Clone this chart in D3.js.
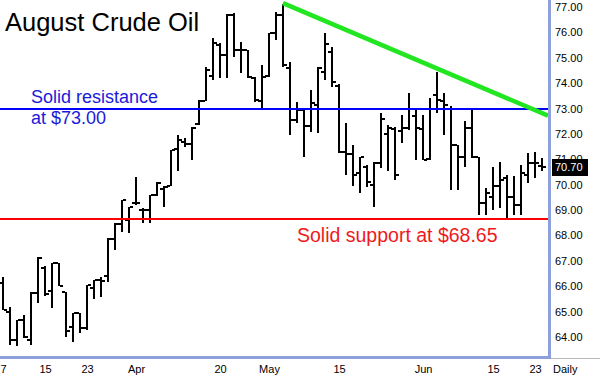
<!DOCTYPE html>
<html>
<head>
<meta charset="utf-8">
<script src="https://cdn.jsdelivr.net/npm/d3@7"></script>
<style>
  body { margin: 0; background: #fff; }
  svg { display: block; font-family: "Liberation Sans", Arial, sans-serif; }
</style>
</head>
<body>
<div id="chart"></div>
<script>
// trading days, Mar 7 - Jun 26
const dates = [
  "03-07","03-08","03-09","03-10","03-13","03-14","03-15","03-16","03-17","03-20",
  "03-21","03-22","03-23","03-24","03-27","03-28","03-29","03-30","03-31",
  "04-03","04-04","04-05","04-06","04-07","04-10","04-11","04-12","04-13","04-17",
  "04-18","04-19","04-20","04-21","04-24","04-25","04-26","04-27","04-28",
  "05-01","05-02","05-03","05-04","05-05","05-08","05-09","05-10","05-11","05-12",
  "05-15","05-16","05-17","05-18","05-19","05-22","05-23","05-24","05-25","05-26",
  "05-30","05-31",
  "06-01","06-02","06-05","06-06","06-07","06-08","06-09","06-12","06-13","06-14",
  "06-15","06-16","06-19","06-20","06-21","06-22","06-23","06-26"
];
const opens = [
  66.12,65.00,63.89,64.68,63.89,65.73,66.70,65.80,66.90,65.79,
  64.41,64.94,64.35,65.93,66.25,66.40,67.85,68.45,68.60,
  69.27,69.00,69.00,69.60,69.85,69.95,71.40,71.70,71.60,72.40,
  73.30,74.30,75.50,75.10,76.70,75.30,75.30,74.20,73.30,
  74.30,75.96,76.70,74.60,72.55,72.95,72.30,73.14,74.45,75.24,
  73.90,71.30,71.20,70.45,70.70,70.00,70.85,72.00,72.20,72.10,
  72.22,72.70,
  72.20,71.00,73.54,73.30,73.00,71.55,71.10,72.25,71.11,69.26,
  69.53,69.95,70.26,69.50,69.20,70.40,70.85,70.75
];
const highs = [
  66.38,65.20,64.68,64.87,65.79,67.17,66.80,66.91,66.91,65.79,
  64.94,64.94,66.06,66.25,66.38,67.89,68.48,69.40,69.14,
  70.32,69.07,69.60,70.10,69.93,71.37,71.96,71.85,72.29,73.34,
  74.65,75.77,75.60,76.72,76.75,75.64,75.31,74.26,74.72,
  75.96,76.81,77.10,74.85,73.27,73.01,73.73,74.65,75.96,75.44,
  73.95,72.42,71.57,71.11,70.78,70.90,72.81,72.35,72.29,72.75,
  73.60,72.94,
  72.75,73.40,74.45,73.60,73.10,71.57,72.49,73.01,71.11,69.86,
  70.71,70.90,70.39,70.33,70.78,71.24,71.30,71.04
];
const lows = [
  65.07,63.69,63.63,63.95,63.69,65.33,65.60,65.14,66.00,64.00,
  63.82,64.15,64.28,65.49,65.59,66.15,67.43,68.15,68.09,
  69.20,68.48,68.48,69.55,69.14,69.93,70.52,71.50,70.98,72.35,
  73.30,74.13,74.19,74.19,75.04,74.39,74.20,73.27,72.94,
  74.26,75.70,74.65,71.96,72.42,71.11,72.09,72.03,74.13,73.86,
  71.24,70.39,69.93,69.67,69.90,69.14,70.65,70.52,70.19,71.63,
  72.16,70.98,
  70.98,70.98,72.82,71.96,69.80,69.80,70.71,71.04,68.81,68.81,
  69.01,69.10,68.62,68.81,68.81,70.06,70.26,70.52
];
const closes = [
  65.07,63.89,64.68,64.00,65.73,67.10,65.70,66.90,66.02,64.22,
  64.94,64.35,66.06,66.25,66.19,67.85,68.45,69.38,69.11,
  69.27,69.01,69.60,70.05,69.90,71.37,71.76,71.60,72.25,73.30,
  74.50,75.57,75.10,76.70,75.30,75.30,74.26,73.34,74.26,
  75.96,76.70,74.72,72.55,72.95,72.30,73.20,74.60,75.55,74.06,
  71.30,71.20,70.40,71.10,70.12,70.85,72.60,72.25,70.40,72.22,
  73.00,72.22,
  70.98,73.00,73.34,73.14,71.55,71.11,72.25,71.11,69.26,69.67,
  69.93,70.20,69.53,69.20,70.45,70.85,70.85,70.70
];

const priceTicks = [64,65,66,67,68,69,70,71,72,73,74,75,76,77];
const dateTicks = ["03-07","03-15","03-23","04-03","04-20","05-01","05-15","06-01","06-15","06-23"];
const dateTickLabels = ["7","15","23","Apr","20","May","15","Jun","15","23"];

const resistance = 73.00;
const support = 68.65;
const trendStart = ["05-03", 77.15];
const trendEnd = ["06-26", 72.82];
const lastPrice = 70.70;

const W = 600, H = 378;
const plotRight = 548, plotBottom = 356;
const axisColor = "#8ea0dc";

const svg = d3.select("#chart").append("svg")
  .attr("width", W)
  .attr("height", H);

svg.append("rect")
  .attr("width", W).attr("height", H)
  .attr("fill", "#ffffff");

const x = d3.scalePoint().domain(dates).range([3, 542]);
const y = d3.scaleLinear().domain([64, 77]).range([337, 7]);

const bars = dates.map((d, i) => ({
  date: d, o: opens[i], h: highs[i], l: lows[i], c: closes[i]
}));

// price bars
const barG = svg.append("g").attr("shape-rendering", "crispEdges").attr("fill", "#000");
const tickLen = 3;

barG.selectAll(".hl")
  .data(bars)
  .enter()
  .append("rect")
  .attr("x", d => Math.round(x(d.date)) - 1)
  .attr("y", d => Math.round(y(d.h)))
  .attr("width", 2)
  .attr("height", d => Math.max(2, Math.round(y(d.l)) - Math.round(y(d.h))));

barG.selectAll(".open")
  .data(bars)
  .enter()
  .append("rect")
  .attr("x", d => Math.round(x(d.date)) - 1 - tickLen)
  .attr("y", d => Math.round(y(d.o)) - 1)
  .attr("width", tickLen)
  .attr("height", 2);

barG.selectAll(".close")
  .data(bars)
  .enter()
  .append("rect")
  .attr("x", d => Math.round(x(d.date)) + 1)
  .attr("y", d => Math.round(y(d.c)) - 1)
  .attr("width", tickLen)
  .attr("height", 2);

// support / resistance
svg.append("line")
  .attr("x1", 0).attr("x2", plotRight)
  .attr("y1", y(resistance)).attr("y2", y(resistance))
  .attr("stroke", "#0000ff").attr("stroke-width", 2)
  .attr("shape-rendering", "crispEdges");

svg.append("line")
  .attr("x1", 0).attr("x2", plotRight)
  .attr("y1", y(support)).attr("y2", y(support))
  .attr("stroke", "#ff0000").attr("stroke-width", 2)
  .attr("shape-rendering", "crispEdges");

// downtrend line, extended to the right edge
const tx1 = x(trendStart[0]), ty1 = y(trendStart[1]);
const tx2 = x(trendEnd[0]), ty2 = y(trendEnd[1]);
const slope = (ty2 - ty1) / (tx2 - tx1);
svg.append("line")
  .attr("x1", tx1).attr("y1", ty1)
  .attr("x2", plotRight).attr("y2", ty1 + slope * (plotRight - tx1))
  .attr("stroke", "#22e622").attr("stroke-width", 4.5);

// axis frame
svg.append("rect")
  .attr("x", plotRight).attr("y", 0)
  .attr("width", 3).attr("height", plotBottom + 3)
  .attr("fill", axisColor);
svg.append("rect")
  .attr("x", 0).attr("y", plotBottom)
  .attr("width", plotRight + 3).attr("height", 3)
  .attr("fill", axisColor);
svg.append("line")
  .attr("x1", plotRight + 3).attr("x2", W)
  .attr("y1", plotBottom + 2.5).attr("y2", plotBottom + 2.5)
  .attr("stroke", "#b8b8b8").attr("stroke-width", 1);

// right price axis
const yAxis = d3.axisRight(y)
  .tickValues(priceTicks)
  .tickFormat(d3.format(".2f"))
  .tickSize(0)
  .tickPadding(4);

const yAxisG = svg.append("g")
  .attr("transform", `translate(${plotRight + 3},0)`)
  .call(yAxis);
yAxisG.select(".domain").remove();
yAxisG.selectAll("text")
  .attr("font-family", "Liberation Sans, Arial, sans-serif")
  .attr("font-size", 11)
  .attr("fill", "#000");

// date axis
const xAxis = d3.axisBottom(x)
  .tickValues(dateTicks)
  .tickFormat((d, i) => dateTickLabels[i])
  .tickSize(0)
  .tickPadding(6);

const xAxisG = svg.append("g")
  .attr("transform", `translate(0,${plotBottom + 3})`)
  .call(xAxis);
xAxisG.select(".domain").remove();
xAxisG.selectAll("text")
  .attr("font-family", "Liberation Sans, Arial, sans-serif")
  .attr("font-size", 11)
  .attr("fill", "#000");

svg.append("text")
  .attr("x", 553).attr("y", 373)
  .attr("font-size", 11)
  .text("Daily");

// last price marker
svg.append("rect")
  .attr("x", 552).attr("y", Math.round(y(lastPrice)) - 8)
  .attr("width", 36).attr("height", 17)
  .attr("fill", "#000");
svg.append("text")
  .attr("x", 555).attr("y", y(lastPrice) + 4)
  .attr("font-size", 11)
  .attr("fill", "#fff")
  .text(d3.format(".2f")(lastPrice));

// labels
svg.append("text")
  .attr("x", 5).attr("y", 31)
  .attr("font-size", 25.5)
  .attr("fill", "#000")
  .text("August Crude Oil");

svg.append("text")
  .attr("x", 31).attr("y", 103)
  .attr("font-size", 18)
  .attr("fill", "#1a1ad8")
  .text("Solid resistance");
svg.append("text")
  .attr("x", 31).attr("y", 124)
  .attr("font-size", 18)
  .attr("fill", "#1a1ad8")
  .text("at $73.00");

svg.append("text")
  .attr("x", 297).attr("y", 242)
  .attr("font-size", 19.5)
  .attr("fill", "#ee1a1a")
  .text("Solid support at $68.65");
</script>
</body>
</html>
